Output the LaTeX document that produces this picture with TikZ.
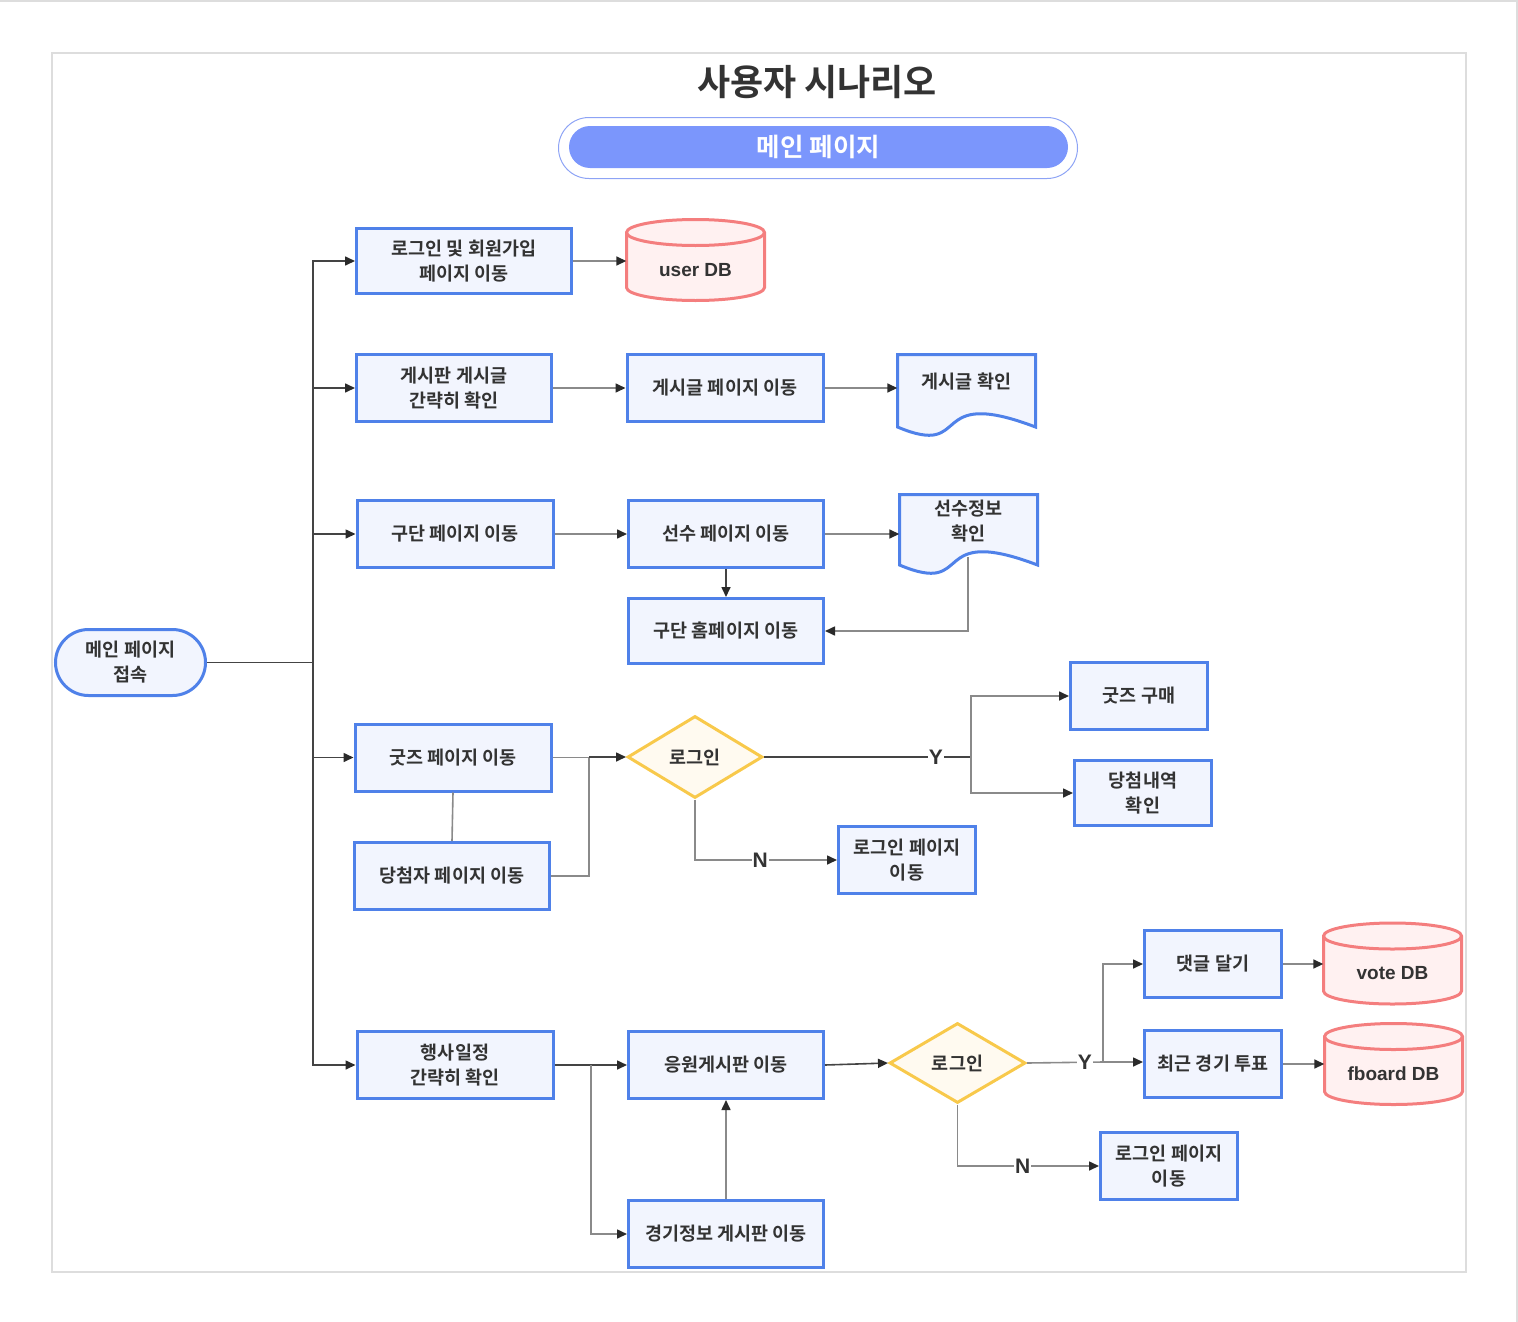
\documentclass[tikz,border=0pt]{standalone}
\usepackage{fontspec}
\setmainfont{Noto Sans CJK KR}[BoldFont={* Bold}]
\newfontfamily\latinfont{Liberation Sans}
\usetikzlibrary{shapes.geometric,arrows.meta}
\definecolor{boxblue}{HTML}{4F81E9}
\definecolor{boxfill}{HTML}{F2F5FE}
\definecolor{txt}{HTML}{333333}
\definecolor{dbred}{HTML}{F47E7E}
\definecolor{dbfill}{HTML}{FFF1F1}
\definecolor{diay}{HTML}{F8C94B}
\definecolor{diafill}{HTML}{FFFAF0}
\definecolor{pillfill}{HTML}{7B96FC}
\definecolor{ringc}{HTML}{8DA3F5}
\definecolor{framec}{HTML}{DDDDDD}
\definecolor{grayline}{HTML}{8A8A8A}
\definecolor{darkline}{HTML}{444444}
\definecolor{arrowc}{HTML}{2A2A2A}
\newcommand\boxfont{\fontsize{18.5}{25}\selectfont\bfseries}
\tikzset{
  box/.style={draw=boxblue, fill=boxfill, line width=3pt, align=center, font=\boxfont, text=txt, inner sep=0pt},
  wide/.style={box, minimum width=196pt, minimum height=67pt},
  small/.style={box, minimum width=137pt, minimum height=67pt},
  dia/.style={diamond, draw=diay, fill=diafill, line width=3pt, font=\boxfont, text=txt, inner sep=0pt},
  dbshape/.style={draw=dbred, fill=dbfill, line width=3pt},
  dbline/.style={draw=dbred, line width=3pt},
  dbarea/.style={draw=none, minimum width=138pt, minimum height=81pt, inner sep=0pt},
  dbtext/.style={font=\latinfont\fontsize{19}{22}\selectfont\bfseries, text=txt, inner sep=0pt},
  docsh/.style={draw=boxblue, fill=boxfill, line width=3pt},
  docarea/.style={draw=none, minimum width=138pt, minimum height=72pt, inner sep=0pt},
  doctext/.style={font=\boxfont, text=txt, align=center, inner sep=0pt},
  conn/.style={draw=grayline, line width=1.6pt},
  dconn/.style={draw=darkline, line width=1.6pt},
  tip/.style={-{Triangle[length=10pt,width=9pt,color=arrowc]}},
  arr/.style={conn, tip},
  darr/.style={dconn, tip},
  lab/.style={font=\latinfont\fontsize{21}{24}\selectfont\bfseries, text=txt, fill=white, inner sep=1pt},
}
\newcommand\dbcyl[4]{%
  \path[dbshape] ({#2-69},{#3-27.5}) -- ({#2-69},{#3+27.5})
    arc[start angle=180,end angle=360,x radius=69pt,y radius=13pt]
    -- ({#2+69},{#3-27.5})
    arc[start angle=0,end angle=180,x radius=69pt,y radius=13pt] -- cycle;
  \draw[dbline] ({#2-69},{#3-27.5}) arc[start angle=180,end angle=360,x radius=69pt,y radius=13pt];
  \node[dbarea] (#1) at (#2,#3) {};
  \node[dbtext] (#1t) at (#2,{#3+10}) {#4};
}
\newcommand\docshape[6]{%
  \path[docsh] (#2,#3) -- (#4,#3) -- (#4,#5)
    .. controls ({#4-0.8*(#4-#2)},{#5-42}) and ({#2+0.55*(#4-#2)},{#5+32}) .. (#2,#5) -- cycle;
  \node[docarea] (#1) at ({(#2+#4)/2},{(#3+#5)/2}) {};
  \node[doctext] (#1t) at ({(#2+#4)/2},{#3+27}) {#6};
}
\begin{document}
\begin{tikzpicture}[x=1pt,y=-1pt]
\useasboundingbox (0,0) rectangle (1518,1322);
% frames
\draw[framec, line width=2pt] (0,1) -- (1517,1) -- (1517,1322);
\draw[framec, line width=2pt] (52,53) rectangle (1466,1272);

% title and header
\node[font=\fontsize{36}{40}\selectfont\bfseries, text=txt] (title) at (817,82) {사용자 시나리오};
\node[draw=ringc, line width=1pt, rounded corners=30.5pt, minimum width=519pt, minimum height=61pt] (ring) at (818,148) {};
\node[fill=pillfill, rounded corners=21pt, minimum width=499pt, minimum height=42pt, inner sep=0pt,
      text=white, font=\fontsize{25.5}{28}\selectfont\bfseries] (mainpage) at (818.5,147) {메인 페이지};

% start
\node[box, rounded corners=33pt, minimum width=150pt, minimum height=66pt] (start) at (130.5,662.5) {메인 페이지\\접속};

% row 1
\node[box, minimum width=215pt, minimum height=65pt] (b1) at (464,261) {로그인 및 회원가입\\페이지 이동};
\dbcyl{udb}{695.5}{260}{user DB}

% row 2
\node[wide, minimum width=195pt] (b3) at (454,388) {게시판 게시글\\간략히 확인};
\node[wide] (b4) at (725,388) {게시글 페이지 이동};
\docshape{d5}{897.5}{354.5}{1035.5}{427}{게시글 확인}

% row 3
\node[wide] (b6) at (455,534) {구단 페이지 이동};
\node[wide, minimum width=195pt] (b7) at (726,534) {선수 페이지 이동};
\docshape{d8}{899.5}{494.5}{1037.5}{565}{선수정보\\확인}
\node[wide, minimum width=195pt, minimum height=65pt] (b9) at (726,631) {구단 홈페이지 이동};
\coordinate (d8b) at (968,557);

% row 4
\node[wide] (b10) at (453,757.5) {굿즈 페이지 이동};
\node[wide, minimum width=195pt] (b11) at (452,876) {당첨자 페이지 이동};
\node[dia, minimum width=135pt, minimum height=82pt] (dia1) at (695,757) {로그인};
\node[small] (b13) at (1139,696) {굿즈 구매};
\node[small, minimum height=65pt] (b14) at (1143,793) {당첨내역\\확인};
\node[small] (b15) at (907,860) {로그인 페이지\\이동};
\coordinate (j1) at (589,757);
\coordinate (j2) at (971,757);

% row 5
\node[small] (b16) at (1213,964) {댓글 달기};
\dbcyl{vdb}{1392.5}{963.5}{vote DB}
\node[small] (b18) at (1213,1064) {최근 경기 투표};
\dbcyl{fdb}{1393.5}{1064}{fboard DB}
\node[dia, minimum width=136pt, minimum height=80pt] (dia2) at (957.5,1063) {로그인};
\node[small] (b21) at (1169,1166) {로그인 페이지\\이동};
\node[wide] (b22) at (455,1065) {행사일정\\간략히 확인};
\node[wide, minimum width=195pt] (b23) at (726,1065) {응원게시판 이동};
\node[wide, minimum width=195pt] (b24) at (726,1234) {경기정보 게시판 이동};
\coordinate (j3) at (591,1065);
\coordinate (j4) at (1103,1062);
\coordinate (tr) at (313,662.5);

% connectors: trunk
\draw[dconn] (start.east) -- (tr);
\draw[darr] (tr) |- (b1.west);
\draw[darr] (tr) |- (b3.west);
\draw[darr] (tr) |- (b6.west);
\draw[darr] (tr) |- (b10.west);
\draw[darr] (tr) |- (b22.west);

% row 1-3
\draw[arr] (b1.east) -- (b1.east -| udb.west);
\draw[arr] (b3.east) -- (b3.east -| b4.west);
\draw[arr] (b4.east) -- (b4.east -| d5.west);
\draw[arr] (b6.east) -- (b6.east -| b7.west);
\draw[arr] (b7.east) -- (b7.east -| d8.west);
\draw[darr] (b7.south) -- (b7.south |- b9.north);
\draw[arr] (d8b) |- (b9.east);

% row 4
\draw[conn] (b10.south) -- (b11.north);
\draw[conn] (b10.east) -- (b10.east -| j1);
\draw[conn] (b11.east) -| (j1);
\draw[darr] (j1) -- (dia1.west);
\draw[dconn] (dia1.east) -- node[lab, pos=0.83] {Y} (j2);
\draw[arr] (j2) |- (b13.west);
\draw[arr] (j2) |- (b14.west);
\draw[arr] (dia1.south) |- node[lab, pos=0.73] {N} (b15.west);

% row 5
\draw[darr] (b22.east) -- (b22.east -| b23.west);
\draw[arr] (j3) |- (b24.west);
\draw[arr] (b24.north) -- (b23.south);
\draw[darr] (b23.east) -- (dia2.west);
\draw[conn] (dia2.east) -- node[lab, pos=0.76] {Y} (j4);
\draw[arr] (j4) |- (b16.west);
\draw[arr] (j4) -- (j4 -| b18.west);
\draw[arr] (dia2.south) |- node[lab, pos=0.73] {N} (b21.west);
\draw[arr] (b16.east) -- (b16.east -| vdb.west);
\draw[arr] (b18.east) -- (fdb.west);
\end{tikzpicture}
\end{document}
